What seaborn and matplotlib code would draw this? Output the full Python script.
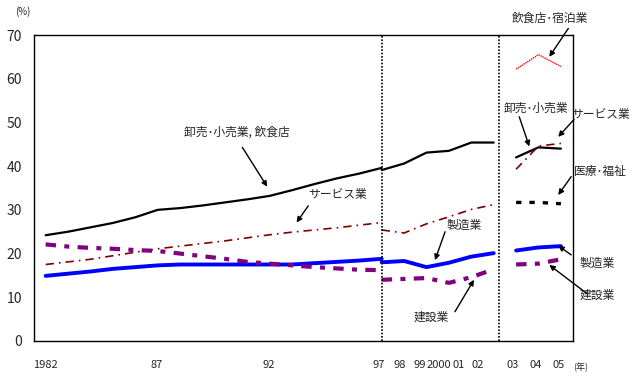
import matplotlib
matplotlib.use("Agg")
import matplotlib.pyplot as plt
import seaborn as sns

# --- data (percent of workers) ---
years1 = list(range(1982, 1998))
wholesale1 = [24.2, 25.0, 26.0, 27.0, 28.3, 30.0, 30.4, 31.0, 31.7, 32.4, 33.2, 34.5, 35.9, 37.2, 38.3, 39.6]
service1 = [17.5, 18.1, 18.7, 19.5, 20.3, 21.1, 21.7, 22.3, 22.9, 23.6, 24.3, 24.9, 25.4, 25.9, 26.5, 27.1]
manuf1 = [14.9, 15.4, 15.9, 16.5, 16.9, 17.3, 17.5, 17.5, 17.5, 17.5, 17.5, 17.5, 17.8, 18.1, 18.4, 18.8]
constr1 = [22.1, 21.6, 21.3, 21.1, 20.8, 20.6, 20.0, 19.4, 18.8, 18.1, 17.7, 17.3, 16.9, 16.6, 16.3, 16.2]

years2 = list(range(1997, 2003))
wholesale2 = [39.1, 40.6, 43.1, 43.5, 45.4, 45.4]
service2 = [25.4, 24.7, 26.8, 28.4, 30.1, 31.2]
manuf2 = [18.0, 18.3, 16.9, 17.9, 19.3, 20.1]
constr2 = [14.0, 14.2, 14.4, 13.3, 14.6, 16.4]

years3 = [2003, 2004, 2005]
wholesale3 = [42.0, 44.3, 44.0]
service3 = [39.3, 44.6, 45.2]
manuf3 = [20.7, 21.4, 21.7]
constr3 = [17.5, 17.7, 18.7]
medical3 = [31.7, 31.7, 31.4]
food3 = [62.2, 65.5, 62.8]

tick_labels = ["1982", "87", "92", "97", "98", "99", "2000", "01", "02", "03", "04", "05"]
tick_pos = [1982.0, 1986.97, 1991.97, 1996.88, 1997.82, 1998.72, 1999.56, 2000.42, 2001.3, 2002.86, 2003.89, 2004.92]

sns.set_style("white")
plt.rcParams['font.family'] = ['Noto Sans CJK JP', 'DejaVu Sans']

fig = plt.figure(figsize=(6.43, 3.77), dpi=100)
ax = fig.add_axes([34 / 643, 36 / 377, 539 / 643, 306 / 377])

# line styles
st_whole = dict(color="black", lw=1.6)
st_serv = dict(color="#800000", lw=1.2, linestyle=(0, (5, 3, 1, 3)))
st_manuf = dict(color="#0000FF", lw=2.8)
st_constr = dict(color="#800080", lw=3.0, linestyle=(0, (2.5, 2, 1.2, 2)))

for yrs, w, s, m, c in [(years1, wholesale1, service1, manuf1, constr1),
                        (years2, wholesale2, service2, manuf2, constr2),
                        (years3, wholesale3, service3, manuf3, constr3)]:
    sns.lineplot(x=yrs, y=w, ax=ax, **st_whole)
    sns.lineplot(x=yrs, y=s, ax=ax, **st_serv)
    sns.lineplot(x=yrs, y=m, ax=ax, **st_manuf)
    sns.lineplot(x=yrs, y=c, ax=ax, **st_constr)

sns.lineplot(x=years3, y=medical3, ax=ax, color="black", lw=2.4, linestyle=(0, (1.6, 2.4)))
sns.lineplot(x=years3, y=food3, ax=ax, color="red", lw=1.0, linestyle=(0, (1, 0.6)))

# break lines between survey periods
ax.axvline(1997, color="black", lw=1.2, linestyle=(0, (1, 1)))
ax.axvline(2002.25, color="black", lw=1.2, linestyle=(0, (1, 1)))

ax.set_xlim(1981.48, 2005.54)
ax.set_ylim(0, 70)
ax.set_yticks(range(0, 71, 10))
ax.set_xticks(tick_pos, tick_labels)
ax.tick_params(axis="x", length=0, pad=14, labelsize=8)
ax.tick_params(axis="y", direction="in", length=2, pad=8.5, labelsize=10)
for sp in ax.spines.values():
    sp.set_color("black")
    sp.set_linewidth(1.0)

fig.text(23 / 643, 1 - 12 / 377, "(%)", fontsize=7, ha="center", va="center")
fig.text(581 / 643, 1 - 367 / 377, "(年)", fontsize=6.5, ha="center", va="center")

# annotations: (text, text pos, arrow tail, arrow head)
notes = [
    ("卸売･小売業, 飲食店", (1990.54, 47.8), (1990.78, 44.3), (1991.89, 35.3)),
    ("サービス業", (1995.05, 33.4), (1993.72, 30.9), (1993.2, 27.1)),
    ("製造業", (2000.67, 26.5), (1999.83, 25.0), (1999.38, 18.5)),
    ("建設業", (1999.2, 5.5), (2000.27, 6.7), (2001.12, 14.0)),
    ("飲食店･宿泊業", (2004.52, 73.9), (2005.33, 71.5), (2004.48, 65.0)),
    ("卸売･小売業", (2003.89, 53.3), (2003.14, 51.3), (2003.59, 44.5)),
    ("サービス業", (2006.75, 51.7), (2005.59, 50.7), (2004.88, 46.7)),
    ("医療･福祉", (2006.75, 38.7), (2005.46, 37.6), (2004.88, 33.4)),
    ("製造業", (2006.62, 17.8), (2005.46, 19.7), (2004.88, 21.8)),
    ("建設業", (2006.62, 10.5), (2006.15, 10.9), (2004.48, 17.4)),
]
for txt, tp, tail, head in notes:
    ax.text(tp[0], tp[1], txt, fontsize=8.5, ha="center", va="center", clip_on=False)
    ax.annotate("", xy=head, xytext=tail, annotation_clip=False,
                arrowprops=dict(arrowstyle="-|>", color="black", lw=1.0,
                                mutation_scale=8, shrinkA=0, shrinkB=0))

fig.savefig("out.png", dpi=100)
